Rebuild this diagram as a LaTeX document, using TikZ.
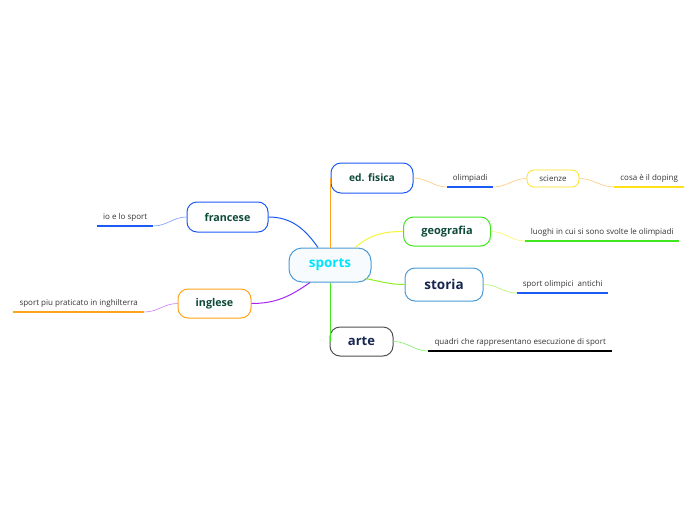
\documentclass[tikz,border=0pt]{standalone}
\usepackage{fontspec}
\setmainfont{Open Sans}
\usetikzlibrary{positioning}
\definecolor{mapcyan}{HTML}{00E5FF}
\definecolor{mapsky}{HTML}{4A9BD8}
\definecolor{mapblue}{HTML}{1C5AF5}
\definecolor{mapgreen}{HTML}{0E4A3A}
\definecolor{mapnavy}{HTML}{17264F}
\definecolor{maplime}{HTML}{3FE81E}
\definecolor{maporange}{HTML}{FFA31A}
\definecolor{mapyellow}{HTML}{FFE11A}
\definecolor{mappurple}{HTML}{A526EE}
\definecolor{mapchart}{HTML}{8BEF22}
\definecolor{mapgray}{HTML}{505050}
\definecolor{mapsun}{HTML}{F5F53A}

\begin{document}
\begin{tikzpicture}[x=1pt,y=-1pt,
  topic/.style={draw,rounded corners=10pt,line width=1pt,minimum height=30pt,
                font=\bfseries\fontsize{10.7}{12}\selectfont,text=mapgreen,fill=white},
  leaf/.style={font=\fontsize{8}{9}\selectfont,text=black!80,inner sep=0pt,
               minimum height=16pt,anchor=south west},
  uline/.style={line width=2pt},
  branch/.style={line width=1pt},
  twig/.style={line width=0.6pt}]
\useasboundingbox (0,0) rectangle (696,520);

% central topic and main branches
\node[topic,draw=mapsky,text=mapcyan,fill=mapsky!4,minimum width=82pt,minimum height=34pt,
      rounded corners=13pt,font=\bfseries\fontsize{13.5}{15}\selectfont] (sports) at (330,265) {sports};
\node[topic,draw=mapblue,minimum width=82pt,font=\bfseries\fontsize{10.2}{12}\selectfont] (edfis) at (372,178) {ed. fisica};
\node[topic,draw=maplime,minimum width=87pt,minimum height=29pt,font=\bfseries\fontsize{11}{12}\selectfont] (geo) at (447,231.5) {geografia};
\node[topic,draw=mapsky,text=mapnavy,minimum width=78pt,minimum height=33pt,
      font=\bfseries\fontsize{13.5}{15}\selectfont] (storia) at (444,284.5) {storia};
\node[topic,draw=mapgray,text=mapnavy,minimum width=63pt,minimum height=29pt,
      font=\bfseries\fontsize{13}{15}\selectfont] (arte) at (361.5,341.5) {arte};
\node[topic,draw=mapblue,minimum width=81pt] (fran) at (227.5,217) {francese};
\node[topic,draw=maporange,minimum width=73pt,minimum height=29pt] (ingl) at (214.5,303.5) {inglese};

% subtopics
\node[leaf,minimum width=46pt] (olim) at (447,187) {olimpiadi};
\node[draw=mapyellow,line width=0.8pt,rounded corners=7pt,minimum width=52pt,minimum height=17pt,
      font=\fontsize{8}{9}\selectfont,text=black!80,inner sep=0pt] (sci) at (553,178.5) {scienze};
\node[leaf,minimum width=70pt] (doping) at (614,187) {cosa è il doping};
\node[leaf,minimum width=154pt] (luoghi) at (525,241) {luoghi in cui si sono svolte le olimpiadi};
\node[leaf,minimum width=91pt] (antichi) at (517,293) {sport olimpici\ \ antichi};
\node[leaf,minimum width=184pt] (quadri) at (428,351) {quadri che rappresentano esecuzione di sport};
\node[leaf,minimum width=56pt] (iosport) at (97,226) {io e lo sport};
\node[leaf,minimum width=131pt] (piu) at (13,312) {sport piu praticato in inghilterra};

% underlines
\draw[uline,mapblue] (olim.south west) -- (olim.south east);
\draw[uline,mapyellow] (doping.south west) -- (doping.south east);
\draw[uline,maplime] (luoghi.south west) -- (luoghi.south east);
\draw[uline,mapblue] (antichi.south west) -- (antichi.south east);
\draw[uline,black] (quadri.south west) -- (quadri.south east);
\draw[uline,mapblue] (iosport.south west) -- (iosport.south east);
\draw[uline,maporange] (piu.south west) -- (piu.south east);

% branches from the centre
\draw[branch,maporange] (sports.north) |- (edfis.west);
\draw[branch,maplime] (sports.south) |- (arte.west);
\draw[branch,mapsun] ([xshift=25pt]sports.north) to[out=40,in=180] (geo.west);
\draw[branch,mapchart] ([xshift=35pt,yshift=4pt]sports.south) to[out=-10,in=180] (storia.west);
\draw[branch,mapblue] ([xshift=-12pt]sports.north) to[out=125,in=0] (fran.east);
\draw[branch,mappurple] ([xshift=-20pt]sports.south) to[out=215,in=0] (ingl.east);

% twigs to subtopics
\draw[twig,maporange!60] (edfis.east) to[out=0,in=180] (olim.south west);
\draw[twig,maporange!60] (olim.south east) to[out=0,in=180] (sci.west);
\draw[twig,maporange!60] (sci.east) to[out=0,in=180] (doping.south west);
\draw[twig,mapsun!80] (geo.east) to[out=0,in=180] (luoghi.south west);
\draw[twig,mapchart!70] (storia.east) to[out=0,in=180] (antichi.south west);
\draw[twig,maplime!70] (arte.east) to[out=0,in=180] (quadri.south west);
\draw[twig,mapblue!60] (fran.west) to[out=180,in=0] (iosport.south east);
\draw[twig,mappurple!60] (ingl.west) to[out=180,in=0] (piu.south east);
\end{tikzpicture}
\end{document}
